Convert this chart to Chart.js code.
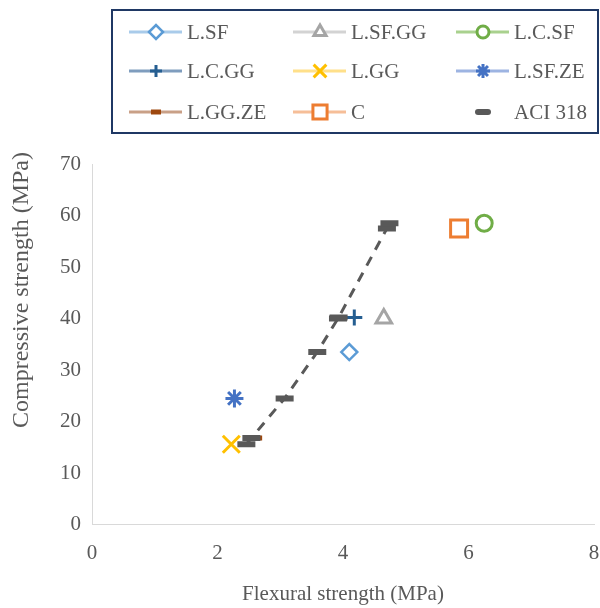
<!DOCTYPE html>
<html>
<head>
<meta charset="utf-8">
<script src="https://cdn.jsdelivr.net/npm/chart.js@4/dist/chart.umd.min.js"></script>
<style>
  html, body { margin: 0; padding: 0; background: #ffffff; overflow: hidden; }
  /* un peu plus large que la fenêtre : la marge de droite de Chart.js tombe hors champ */
  #wrap { width: 609px; height: 608px; position: relative; }
</style>
</head>
<body>
<div id="wrap"><canvas id="graphique"></canvas></div>
<script>
// Données
const nomsSeries = ['L.SF', 'L.SF.GG', 'L.C.SF', 'L.C.GG', 'L.GG', 'L.SF.ZE', 'L.GG.ZE', 'C'];
const resistanceFlexion = [4.10, 4.65, 6.25, 4.18, 2.22, 2.27, 2.60, 5.85];
const resistanceCompression = [33.5, 40.0, 58.5, 40.2, 15.6, 24.5, 16.8, 57.5];

// Courbe ACI 318
const aciFlexion = [2.46, 2.54, 3.07, 3.59, 3.92, 3.93, 4.70, 4.74];
const aciCompression = [15.6, 16.8, 24.5, 33.5, 40.0, 40.2, 57.5, 58.5];

const ticksX = [0, 2, 4, 6, 8];
const ticksY = [0, 10, 20, 30, 40, 50, 60, 70];

const police = "'Liberation Serif', 'Times New Roman', serif";
const gris = '#595959';

// Style des marqueurs (forme, couleur, couleur de la ligne de légende)
const styles = [
    { forme: 'rectRot',  couleur: '#5B9BD5', ligne: '#A9CBEA', rayon: 8,  legende: 7,  epaisseur: 2.5, plein: false },
    { forme: 'triangle', couleur: '#A5A5A5', ligne: '#D3D3D3', rayon: 9,  legende: 7,  epaisseur: 3,   plein: false },
    { forme: 'circle',   couleur: '#70AD47', ligne: '#A9D18E', rayon: 8,  legende: 6,  epaisseur: 3,   plein: false },
    { forme: 'cross',    couleur: '#255E91', ligne: '#7F9DBE', rayon: 8,  legende: 6,  epaisseur: 3,   plein: true },
    { forme: 'crossRot', couleur: '#FFC000', ligne: '#FFE08A', rayon: 12, legende: 9,  epaisseur: 3,   plein: true },
    { forme: 'star',     couleur: '#4472C4', ligne: '#9DB4E2', rayon: 9,  legende: 7,  epaisseur: 3,   plein: true },
    { forme: 'line',     couleur: '#9E480E', ligne: '#C9A087', rayon: 7,  legende: 5,  epaisseur: 5,   plein: true },
    { forme: 'rect',     couleur: '#ED7D31', ligne: '#F6BE98', rayon: 12, legende: 10, epaisseur: 3,   plein: false }
];

const datasets = nomsSeries.map((nom, i) => ({
    label: nom,
    data: [{ x: resistanceFlexion[i], y: resistanceCompression[i] }],
    pointStyle: styles[i].forme,
    pointRadius: styles[i].rayon,
    pointHoverRadius: styles[i].rayon,
    pointBorderWidth: styles[i].epaisseur,
    borderColor: styles[i].couleur,
    backgroundColor: styles[i].plein ? styles[i].couleur : '#ffffff',
    showLine: false,
    order: 2
}));

datasets.push({
    label: 'ACI 318',
    data: aciFlexion.map((v, i) => ({ x: v, y: aciCompression[i] })),
    showLine: true,
    borderColor: gris,
    borderWidth: 3,
    borderDash: [10, 8],
    backgroundColor: gris,
    pointStyle: 'line',
    pointRadius: 9,
    pointHoverRadius: 9,
    pointBorderWidth: 6,
    pointBorderColor: gris,
    tension: 0,
    order: 1
});

// Légende dessinée à la main : ligne + marqueur comme dans Excel
const legendeExcel = {
    id: 'legendeExcel',
    afterDraw(chart) {
        const ctx = chart.ctx;
        ctx.save();
        ctx.strokeStyle = '#1F3864';
        ctx.lineWidth = 2;
        ctx.strokeRect(112, 10, 486, 123);

        const colX = [129, 293, 456];
        const rowY = [32, 71, 112];
        ctx.font = '21px ' + police;
        ctx.fillStyle = gris;
        ctx.textBaseline = 'middle';

        const tous = nomsSeries.concat(['ACI 318']);
        tous.forEach((nom, i) => {
            const x = colX[i % 3];
            const y = rowY[Math.floor(i / 3)];
            if (i < styles.length) {
                const s = styles[i];
                ctx.strokeStyle = s.ligne;
                ctx.lineWidth = 3;
                ctx.beginPath();
                ctx.moveTo(x, y);
                ctx.lineTo(x + 53, y);
                ctx.stroke();
                ctx.strokeStyle = s.couleur;
                ctx.fillStyle = s.plein ? s.couleur : '#ffffff';
                ctx.lineWidth = s.epaisseur;
                Chart.helpers.drawPoint(ctx, {
                    pointStyle: s.forme,
                    radius: s.legende,
                    rotation: 0,
                    borderWidth: s.epaisseur
                }, x + 27, y);
            } else {
                ctx.strokeStyle = gris;
                ctx.lineWidth = 6;
                ctx.lineCap = 'round';
                ctx.beginPath();
                ctx.moveTo(x + 22, y);
                ctx.lineTo(x + 32, y);
                ctx.stroke();
                ctx.lineCap = 'butt';
            }
            ctx.fillStyle = gris;
            ctx.textAlign = 'left';
            ctx.fillText(nom, x + 58, y + 1);
        });

        // Titre de l'axe vertical
        ctx.font = '24px ' + police;
        ctx.translate(22, 290);
        ctx.rotate(-Math.PI / 2);
        ctx.textAlign = 'center';
        ctx.fillText('Compressive strength (MPa)', 0, 0);
        ctx.restore();
    }
};

const ctx = document.getElementById('graphique').getContext('2d');
new Chart(ctx, {
    type: 'scatter',
    data: { datasets: datasets },
    options: {
        responsive: true,
        maintainAspectRatio: false,
        animation: false,
        layout: { padding: { top: 164, left: 49, right: -3, bottom: 0 } },
        plugins: {
            legend: { display: false },
            tooltip: { enabled: false }
        },
        scales: {
            x: {
                type: 'linear',
                min: 0,
                max: 8,
                afterBuildTicks: axis => { axis.ticks = ticksX.map(v => ({ value: v })); },
                afterFit: axis => { axis.paddingRight = 0; },
                grid: { display: false, drawTicks: false, tickLength: 0 },
                border: { display: true, color: '#D9D9D9', width: 1 },
                ticks: { color: gris, font: { family: police, size: 21 }, padding: 16 },
                title: {
                    display: true,
                    text: 'Flexural strength (MPa)',
                    color: gris,
                    font: { family: police, size: 21 },
                    padding: { top: 0, bottom: 1 }
                }
            },
            y: {
                type: 'linear',
                min: 0,
                max: 70,
                afterBuildTicks: axis => { axis.ticks = ticksY.map(v => ({ value: v })); },
                grid: { display: false, drawTicks: false, tickLength: 0 },
                border: { display: true, color: '#D9D9D9', width: 1 },
                ticks: { color: gris, font: { family: police, size: 21 }, padding: 11 }
            }
        }
    },
    plugins: [legendeExcel]
});
</script>
</body>
</html>
